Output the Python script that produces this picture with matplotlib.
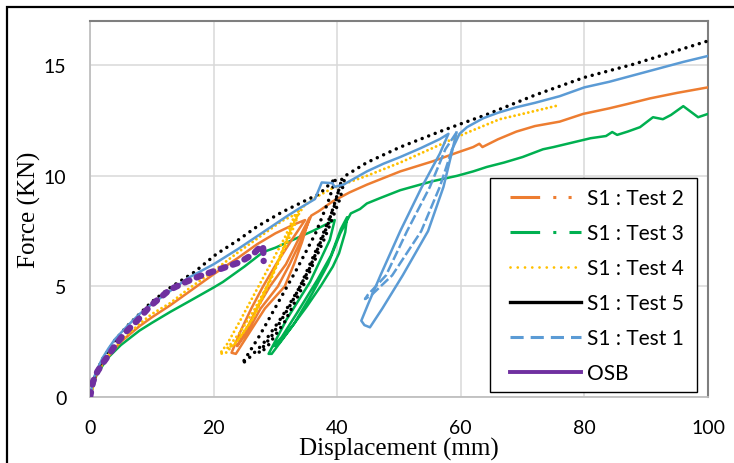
import matplotlib
matplotlib.use("Agg")
import matplotlib.pyplot as plt
from matplotlib.lines import Line2D
from matplotlib.patches import Rectangle

# ---- data (displacement mm, force kN) ----
# S1 : Test 1 (blue): envelope -> solid loop -> dashed loop -> envelope
t1_x = [0, 0.5, 1, 2, 3, 4, 6, 8, 10, 13, 16, 20, 24, 28, 32, 34, 36.4, 37.5, 39.2, 39.6, 41,
        44.8, 47.5, 50.2, 53.5, 56.6, 58,
        56.6, 53.7, 50.2, 47.0, 45.0, 43.9, 44.4, 45.3, 47.3, 50.6, 54.7, 57.2, 58.5, 59.3,
        57.5, 55.0, 51.3, 47.9, 44.9, 44.5, 45.5, 48.9, 53.6, 56.6, 58.6, 59.8,
        61, 63.6, 66, 69, 72, 76, 80, 84, 88, 92, 96, 100]
t1_y = [0, 0.75, 1.15, 1.75, 2.2, 2.6, 3.2, 3.75, 4.2, 4.8, 5.4, 6.0, 6.7, 7.45, 8.2, 8.55, 8.95, 9.7, 9.67, 9.5, 9.6,
        10.2, 10.55, 10.85, 11.25, 11.66, 11.9,
        11.0, 9.5, 7.5, 5.5, 4.2, 3.45, 3.25, 3.15, 4.0, 5.5, 7.5, 9.5, 11.0, 11.96,
        11.2, 9.5, 7.5, 5.5, 4.6, 4.43, 4.6, 5.5, 7.5, 9.5, 11.2, 11.9,
        12.2, 12.6, 12.85, 13.1, 13.3, 13.6, 14.0, 14.25, 14.55, 14.85, 15.15, 15.42]
t1_dashed = (40, 51)  # index range drawn dashed

# S1 : Test 2 (orange)
t2_x = [0, 1, 2, 3, 5, 8, 10, 13, 16, 20, 24, 27, 30, 33, 34.8,
        32.4, 30.1, 28.0, 26.1, 24.4, 22.9, 23.6, 26.0, 28.3, 31.5, 33.0, 34.3, 35.5,
        33.5, 31.7, 29.1, 27.0, 25.2, 23.8, 25.6, 27.6, 30.4, 32.3, 34.0, 35.8,
        37, 39.3, 42, 44.8, 47.5, 50.2, 55.5, 59.4, 62, 63, 63.5, 66, 69, 72, 76, 79.8,
        84, 87, 90.6, 95, 100]
t2_y = [0, 1.0, 1.5, 1.85, 2.5, 3.2, 3.6, 4.15, 4.75, 5.55, 6.3, 6.9, 7.4, 7.8, 8.0,
        7.0, 6.0, 5.0, 4.0, 3.0, 2.0, 1.95, 3.0, 4.0, 5.0, 6.0, 7.0, 8.1,
        7.0, 6.0, 5.0, 4.0, 3.0, 2.3, 3.0, 4.0, 5.0, 6.0, 7.0, 8.2,
        8.4, 8.85, 9.25, 9.6, 9.9, 10.2, 10.66, 11.05, 11.3, 11.45, 11.3, 11.65, 12.0, 12.25, 12.45, 12.8,
        13.05, 13.25, 13.5, 13.75, 14.0]

# S1 : Test 3 (green)
t3_x = [0, 1, 2, 3, 5, 8, 10, 13, 16.2, 20, 21.5, 25, 28, 30, 32.4, 36, 39.6,
        38.8, 35.6, 31.8, 28.9, 29.4, 32.2, 35.1, 37.3, 39.3, 40.3, 41.3, 41.6,
        40.6, 39.0, 36.8, 33.5, 31.0, 29.7, 30.5, 33.0, 36.0, 38.5, 40.5, 42.2,
        43.7, 44.8, 47, 50.2, 53.4, 55.5, 59.4, 62, 64.2, 67, 70, 73.3, 75, 78, 81,
        83.5, 84.5, 85.3, 87, 89, 91.1, 92.7, 94, 96, 98.4, 100]
t3_y = [0, 0.95, 1.4, 1.8, 2.35, 3.0, 3.35, 3.85, 4.35, 4.95, 5.2, 5.9, 6.55, 6.75, 7.05, 7.5, 8.0,
        7.1, 5.2, 3.5, 1.95, 1.95, 3.0, 4.1, 5.0, 5.9, 6.5, 7.45, 8.13,
        7.6, 6.4, 5.3, 3.8, 2.7, 2.3, 2.4, 3.3, 4.7, 6.0, 7.4, 8.3,
        8.5, 8.75, 9.0, 9.35, 9.6, 9.76, 10.0, 10.2, 10.4, 10.6, 10.85, 11.2, 11.3, 11.5, 11.7,
        11.8, 11.98, 11.85, 12.0, 12.2, 12.65, 12.56, 12.75, 13.15, 12.65, 12.8]

# S1 : Test 4 (gold, dotted)
t4_x = [0, 1, 2, 3, 5, 8, 10, 13, 16, 20, 24, 28, 31, 33.2,
        31.5, 29.0, 26.3, 24.0, 22.2, 21.0, 22.0, 24.0, 26.5, 28.8, 31.0, 32.8, 33.8,
        33.3, 31.5, 29.0, 26.5, 24.2, 22.2, 23.5, 25.8, 28.0, 30.5, 32.8, 34.5,
        36, 39.3, 44.8, 50.2, 56.6, 60.4, 66.3, 70, 73, 76]
t4_y = [0, 0.95, 1.5, 1.9, 2.55, 3.3, 3.75, 4.25, 4.9, 5.7, 6.55, 7.35, 7.95, 8.25,
        7.2, 5.9, 4.5, 3.3, 2.4, 1.95, 2.0, 2.6, 3.6, 5.0, 6.5, 7.8, 8.5,
        7.9, 6.7, 5.2, 3.9, 2.9, 2.2, 2.4, 3.3, 4.6, 6.2, 7.8, 8.6,
        8.95, 9.45, 10.0, 10.6, 11.4, 11.88, 12.56, 12.8, 13.0, 13.2]

# S1 : Test 5 (black, dotted)
t5_x = [0, 1, 2, 4, 6, 8, 9.9, 13, 16.9, 20.4, 24, 27, 31, 35, 37.2, 39.8,
        38.5, 36.5, 33.5, 30.5, 27.5, 24.6, 25.5, 28, 31, 34, 37, 39.5, 40.8,
        40.3, 38.5, 35.5, 32.5, 29.5, 27.3, 28.5, 31.5, 34.8, 38, 40.5, 41.3,
        44.8, 50.2, 56.6, 60, 64, 68, 72, 76, 80, 84, 88, 92, 96, 100]
t5_y = [0.3, 1.1, 1.7, 2.55, 3.2, 3.75, 4.28, 4.95, 5.65, 6.45, 7.1, 7.7, 8.35, 8.9, 9.2, 9.9,
        8.8, 7.4, 5.8, 4.3, 2.8, 1.5, 1.7, 2.4, 3.6, 5.0, 6.9, 8.6, 9.9,
        9.4, 7.8, 5.8, 4.2, 2.8, 2.0, 2.2, 3.4, 5.2, 7.2, 9.0, 10.0,
        10.6, 11.3, 12.0, 12.35, 12.75, 13.2, 13.65, 14.05, 14.45, 14.75, 15.05, 15.4, 15.75, 16.1]

# OSB (purple)
osb_x = [0, 0.5, 1.2, 2.0, 2.9, 4.0, 5.5, 7.8, 9.7, 12.9, 15.5, 17.8, 21, 24.3, 26.4, 27.6, 28, 28.1]
osb_y = [0, 0.7, 1.15, 1.5, 1.85, 2.3, 2.85, 3.5, 4.1, 4.85, 5.2, 5.47, 5.78, 6.1, 6.46, 6.8, 6.83, 6.15]

labels = ["S1 : Test 2", "S1 : Test 3", "S1 : Test 4", "S1 : Test 5", "S1 : Test 1", "OSB"]
xticks = [0, 20, 40, 60, 80, 100]
yticks = [0, 5, 10, 15]

c_orange, c_green, c_gold = "#ED7D31", "#00B050", "#FFC000"
c_black, c_blue, c_purple = "#000000", "#5B9BD5", "#7030A0"

fig = plt.figure(figsize=(7.34, 4.64), dpi=100)
ax = fig.add_axes([90 / 734, 66 / 464, 618 / 734, 376 / 464])

ax.plot(t3_x, t3_y, color=c_green, lw=1.8, solid_joinstyle="round", zorder=3)
ax.plot(t2_x, t2_y, color=c_orange, lw=1.8, solid_joinstyle="round", zorder=4)
ax.plot(t4_x, t4_y, color=c_gold, lw=2.1, linestyle=(0, (0.01, 1.6)),
        dash_capstyle="round", zorder=5)
ax.plot(t5_x, t5_y, color=c_black, lw=2.5, linestyle=(0, (0.01, 2.0)),
        dash_capstyle="round", zorder=6)
a, b = t1_dashed
ax.plot(t1_x[:a + 1], t1_y[:a + 1], color=c_blue, lw=1.8, solid_joinstyle="round", zorder=7)
ax.plot(t1_x[a:b + 1], t1_y[a:b + 1], color=c_blue, lw=1.8, linestyle=(0, (4, 1.3)), zorder=7)
ax.plot(t1_x[b:], t1_y[b:], color=c_blue, lw=1.8, solid_joinstyle="round", zorder=7)
ax.plot(osb_x, osb_y, color=c_purple, lw=4.6, linestyle=(0, (0.75, 1.25)),
        dash_capstyle="round", zorder=8)

ax.set_xlim(0, 100)
ax.set_ylim(0, 17)
ax.set_xticks(xticks)
ax.set_yticks(yticks)
ax.grid(True, color="#D9D9D9", lw=1.1)
ax.set_axisbelow(True)
ax.tick_params(length=0, labelsize=14, colors="black")
ax.tick_params(axis="x", pad=16)
ax.tick_params(axis="y", pad=17)
for lab in ax.get_xticklabels() + ax.get_yticklabels():
    lab.set_fontfamily("Lato")
for s in ["left", "bottom"]:
    ax.spines[s].set_color("#BFBFBF")
    ax.spines[s].set_linewidth(1.3)
for s in ["top", "right"]:
    ax.spines[s].set_color("#7F7F7F")
    ax.spines[s].set_linewidth(1.5)

ax.set_xlabel("Displacement (mm)", family="Liberation Serif", fontsize=18)
ax.set_ylabel("Force (KN)", family="Liberation Serif", fontsize=18)
ax.xaxis.set_label_coords(0.5, -0.105)
ax.yaxis.set_label_coords(-0.08, 0.5)

# legend box drawn as its own frame, entries placed inside it
ax.add_patch(Rectangle((0.647, 0.0133), 0.335, 0.569, transform=ax.transAxes,
                       facecolor="white", edgecolor="black", lw=1.0, zorder=9))
handles = [
    Line2D([], [], color=c_orange, lw=2.2, linestyle=(0, (9.7, 4.3, 1, 4, 1, 3.3))),
    Line2D([], [], color=c_green, lw=2.2, linestyle=(0, (9.7, 4.3, 1, 4.3))),
    Line2D([], [], color=c_gold, lw=2.0, linestyle=(0, (0.01, 2.6)), dash_capstyle="round"),
    Line2D([], [], color=c_black, lw=2.4),
    Line2D([], [], color=c_blue, lw=2.2, linestyle=(0, (4.3, 2.3))),
    Line2D([], [], color=c_purple, lw=2.8),
]
leg = ax.legend(handles, labels, loc="upper left", bbox_to_anchor=(0.68, 0.556),
                borderaxespad=0, borderpad=0, frameon=False, handlelength=3.4,
                handletextpad=0.3, labelspacing=0.72, prop={"family": "Lato", "size": 15})
leg.set_zorder(10)

# outer frame of the picture
fig.patches.append(Rectangle((7 / 734, -0.5), 2, (1 - 8 / 464) + 0.5, transform=fig.transFigure,
                             fill=False, edgecolor="black", lw=1.6))

fig.savefig("out.png", dpi=100)
